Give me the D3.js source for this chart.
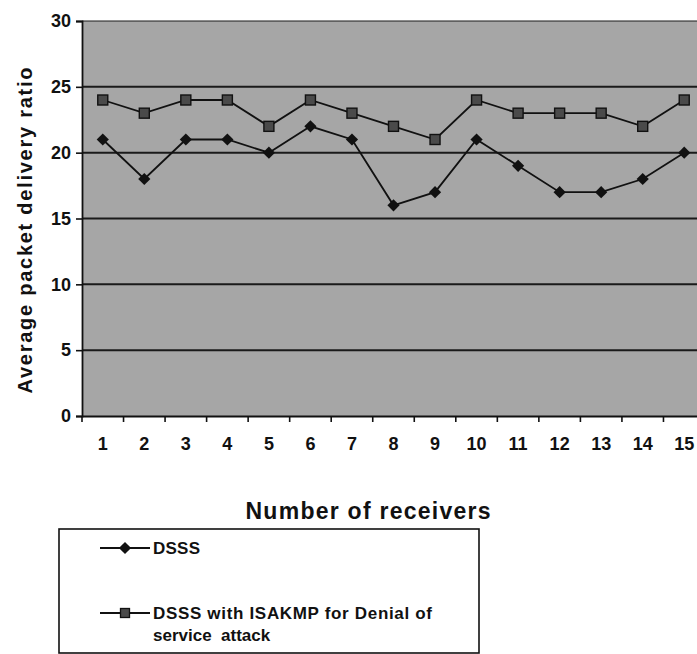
<!DOCTYPE html>
<html>
<head>
<meta charset="utf-8">
<script src="https://cdn.jsdelivr.net/npm/d3@7"></script>
<style>
  body { margin: 0; background: #fff; }
  text { font-family: "Liberation Sans", Arial, sans-serif; font-weight: bold; fill: #111; }
</style>
</head>
<body>
<div id="chart"></div>
<script>
// number of receivers
var receivers = [1, 2, 3, 4, 5, 6, 7, 8, 9, 10, 11, 12, 13, 14, 15];
// DSSS
var dsss = [21, 18, 21, 21, 20, 22, 21, 16, 17, 21, 19, 17, 17, 18, 20];
// DSSS with ISAKMP for Denial of service attack
var isakmp = [24, 23, 24, 24, 22, 24, 23, 22, 21, 24, 23, 23, 23, 22, 24];
var yTicks = [0, 5, 10, 15, 20, 25, 30];

var width = 697, height = 654;
// plot edges (window.top is taken, so no "top" here)
var pLeft = 82, pTop = 21, pRight = 705, pBottom = 416;

var svg = d3.select("#chart")
	.append("svg")
	.attr("width", width)
	.attr("height", height);

var x = d3.scaleBand()
	.domain(receivers)
	.range([pLeft, pRight]);

var y = d3.scaleLinear()
	.domain([0, 30])
	.range([pBottom, pTop]);

// grey plot area
svg.append("rect")
	.attr("x", pLeft)
	.attr("y", pTop)
	.attr("width", pRight - pLeft)
	.attr("height", pBottom - pTop)
	.style("fill", "#a6a6a6");

// grid lines
svg.selectAll(".grid")
	.data(yTicks.filter(function (d) { return d > 0; }))
	.enter().append("line")
	.attr("class", "grid")
	.attr("x1", pLeft)
	.attr("x2", pRight)
	.attr("y1", function (d) { return y(d); })
	.attr("y2", function (d) { return y(d); })
	.style("stroke", "#1a1a1a")
	.style("stroke-width", function (d) { return d == 30 ? 1.2 : 2; });

// y axis
var yAxis = svg.append("g")
	.attr("transform", "translate(" + pLeft + ",0)")
	.call(d3.axisLeft(y).tickValues(yTicks).tickSize(6).tickPadding(5));
yAxis.select(".domain").style("stroke", "#111").style("stroke-width", 1.8);
yAxis.selectAll(".tick line").style("stroke", "#111").style("stroke-width", 1.6);
yAxis.selectAll(".tick text").style("font-size", "18px").style("fill", "#111");

// x axis, ticks between categories
var xAxis = svg.append("g")
	.attr("transform", "translate(0," + pBottom + ")")
	.call(d3.axisBottom(x).tickSize(0).tickPadding(21));
xAxis.select(".domain").style("stroke", "#111").style("stroke-width", 1.8);
xAxis.selectAll(".tick text").style("font-size", "18px").style("fill", "#111");

svg.selectAll(".xtick")
	.data(receivers)
	.enter().append("line")
	.attr("class", "xtick")
	.attr("x1", function (d) { return x(d); })
	.attr("x2", function (d) { return x(d); })
	.attr("y1", pBottom)
	.attr("y2", pBottom + 6)
	.style("stroke", "#111")
	.style("stroke-width", 1.6);

var cx = function (d, i) { return x(receivers[i]) + x.bandwidth() / 2; };

var line = d3.line()
	.x(function (d, i) { return x(receivers[i]) + x.bandwidth() / 2; })
	.y(function (d) { return y(d); });

svg.append("path")
	.datum(isakmp)
	.attr("d", line)
	.style("fill", "none")
	.style("stroke", "#111")
	.style("stroke-width", 1.8);

svg.append("path")
	.datum(dsss)
	.attr("d", line)
	.style("fill", "none")
	.style("stroke", "#111")
	.style("stroke-width", 1.8);

// square markers
svg.selectAll(".sq")
	.data(isakmp)
	.enter().append("rect")
	.attr("class", "sq")
	.attr("x", function (d, i) { return cx(d, i) - 5; })
	.attr("y", function (d) { return y(d) - 5; })
	.attr("width", 10)
	.attr("height", 10)
	.style("fill", "#4a4a4a")
	.style("stroke", "#111")
	.style("stroke-width", 1.4);

// diamond markers
var diamond = d3.symbol().type(d3.symbolDiamond2).size(95);
svg.selectAll(".dm")
	.data(dsss)
	.enter().append("path")
	.attr("class", "dm")
	.attr("d", diamond)
	.attr("transform", function (d, i) { return "translate(" + cx(d, i) + "," + y(d) + ")"; })
	.style("fill", "#111");

// axis titles
svg.append("text")
	.attr("transform", "translate(32," + ((pTop + pBottom) / 2 + 12) + ") rotate(-90)")
	.attr("text-anchor", "middle")
	.attr("textLength", 326)
	.style("font-size", "20px")
	.text("Average packet delivery ratio");

svg.append("text")
	.attr("x", 368)
	.attr("y", 519)
	.attr("text-anchor", "middle")
	.attr("textLength", 245)
	.style("font-size", "23px")
	.text("Number of receivers");

// legend
var legend = svg.append("g");
legend.append("rect")
	.attr("x", 59)
	.attr("y", 529)
	.attr("width", 420)
	.attr("height", 124)
	.style("fill", "#fff")
	.style("stroke", "#111")
	.style("stroke-width", 1.6);

legend.append("line")
	.attr("x1", 100).attr("x2", 150)
	.attr("y1", 548).attr("y2", 548)
	.style("stroke", "#111").style("stroke-width", 1.8);
legend.append("path")
	.attr("d", diamond)
	.attr("transform", "translate(125,548)")
	.style("fill", "#111");
legend.append("text")
	.attr("x", 153).attr("y", 554)
	.attr("textLength", 47)
	.style("font-size", "17px")
	.text("DSSS");

legend.append("line")
	.attr("x1", 100).attr("x2", 150)
	.attr("y1", 613).attr("y2", 613)
	.style("stroke", "#111").style("stroke-width", 1.8);
legend.append("rect")
	.attr("x", 120.5).attr("y", 608.5)
	.attr("width", 9).attr("height", 9)
	.style("fill", "#4a4a4a")
	.style("stroke", "#111")
	.style("stroke-width", 1.3);
legend.append("text")
	.attr("x", 153).attr("y", 619)
	.attr("textLength", 279)
	.style("font-size", "17px")
	.text("DSSS with ISAKMP for Denial of");
legend.append("text")
	.attr("x", 153).attr("y", 641)
	.style("font-size", "17px")
	.style("white-space", "pre")
	.text("service  attack");
</script>
</body>
</html>
